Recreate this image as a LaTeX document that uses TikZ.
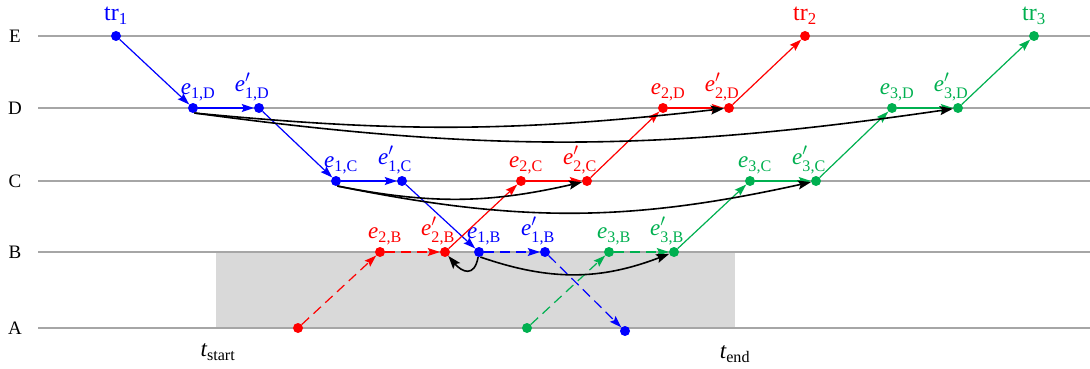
\documentclass[tikz,border=0pt]{standalone}
\usepackage{fontspec}
\setmainfont{Liberation Serif}
\usepackage{amsmath}
\usetikzlibrary{arrows.meta,positioning}
\definecolor{TrBlue}{HTML}{0000FF}
\definecolor{TrRed}{HTML}{FF0000}
\definecolor{TrGreen}{HTML}{00B050}
\definecolor{LaneGray}{HTML}{A6A6A6}
\definecolor{WinGray}{HTML}{D9D9D9}
\newcommand{\ev}[1]{$\text{\itshape e}_{\text{#1}}$}
\newcommand{\evp}[1]{$\text{\itshape e}'_{\text{#1}}$}
\newcommand{\trname}[1]{tr$_{\text{#1}}$}
\tikzset{
  dot/.style={circle,fill,inner sep=0pt,minimum size=10pt},
  lane/.style={LaneGray,line width=1.3pt},
  hop/.style={line width=1.2pt,-{Stealth[length=12pt,width=8pt,inset=2pt]}},
  hopdash/.style={hop,dash pattern=on 10pt off 6pt},
  link/.style={black,line width=1.6pt,-{Stealth[length=13pt,width=9pt,inset=2.5pt]}},
  evlab/.style={font=\fontsize{23}{25}\selectfont,inner sep=0pt},
  trlab/.style={font=\fontsize{24}{26}\selectfont,inner sep=0pt},
  lanelab/.style={font=\fontsize{19}{21}\selectfont,inner sep=0pt}
}
\begin{document}
\begin{tikzpicture}[x=1pt,y=1pt]
  \useasboundingbox (0,0) rectangle (1090,-369);
  % --- time window ---
  \fill[WinGray] (216,-252) rectangle (735,-328);
  \node[evlab] (tstart) at (218,-352) {$\text{\itshape t}_{\text{start}}$};
  \node[evlab] (tend) at (735,-354) {$\text{\itshape t}_{\text{end}}$};
  % --- lanes ---
  \foreach \y/\n in {36/E,108/D,181/C,252/B,328/A}{
    \node[lanelab] (lane\n) at (15,-\y) {\n};
    \draw[lane] (38,-\y) -- (1090,-\y);
  }

  % --- tr1 (blue) ---
  \begin{scope}[TrBlue]
    \node[dot,label={[trlab,label distance=6pt]above:\trname{1}}] (tr1) at (116,-36) {};
    \node[dot,label={[evlab,label distance=2pt,xshift=5pt]above:\ev{1,D}}]   (e1D)  at (193,-108) {};
    \node[dot,label={[evlab,label distance=2pt,xshift=-7pt]above:\evp{1,D}}] (e1Dp) at (259,-108) {};
    \node[dot,label={[evlab,label distance=2pt,xshift=5pt]above:\ev{1,C}}]   (e1C)  at (336,-181) {};
    \node[dot,label={[evlab,label distance=2pt,xshift=-7pt]above:\evp{1,C}}] (e1Cp) at (402,-181) {};
    \node[dot,label={[evlab,label distance=2pt,xshift=5pt]above:\ev{1,B}}]   (e1B)  at (479,-252) {};
    \node[dot,label={[evlab,label distance=2pt,xshift=-7pt]above:\evp{1,B}}] (e1Bp) at (545,-252) {};
    \node[dot] (e1A) at (625,-331) {};
    \foreach \a/\b in {tr1/e1D,e1D/e1Dp,e1Dp/e1C,e1C/e1Cp,e1Cp/e1B}
      \draw[hop] (\a) -- (\b);
    \foreach \a/\b in {e1B/e1Bp,e1Bp/e1A}
      \draw[hopdash] (\a) -- (\b);
  \end{scope}

  % --- tr2 (red) ---
  \begin{scope}[TrRed]
    \node[dot] (e2A) at (298,-328) {};
    \node[dot,label={[evlab,label distance=2pt,xshift=5pt]above:\ev{2,B}}]   (e2B)  at (380,-252) {};
    \node[dot,label={[evlab,label distance=2pt,xshift=-7pt]above:\evp{2,B}}] (e2Bp) at (445,-252) {};
    \node[dot,label={[evlab,label distance=2pt,xshift=5pt]above:\ev{2,C}}]   (e2C)  at (521,-181) {};
    \node[dot,label={[evlab,label distance=2pt,xshift=-7pt]above:\evp{2,C}}] (e2Cp) at (587,-181) {};
    \node[dot,label={[evlab,label distance=2pt,xshift=5pt]above:\ev{2,D}}]   (e2D)  at (663,-108) {};
    \node[dot,label={[evlab,label distance=2pt,xshift=-7pt]above:\evp{2,D}}] (e2Dp) at (729,-108) {};
    \node[dot,label={[trlab,label distance=6pt]above:\trname{2}}] (tr2) at (805,-36) {};
    \foreach \a/\b in {e2A/e2B,e2B/e2Bp}
      \draw[hopdash] (\a) -- (\b);
    \foreach \a/\b in {e2Bp/e2C,e2C/e2Cp,e2Cp/e2D,e2D/e2Dp,e2Dp/tr2}
      \draw[hop] (\a) -- (\b);
  \end{scope}

  % --- tr3 (green) ---
  \begin{scope}[TrGreen]
    \node[dot] (e3A) at (527,-328) {};
    \node[dot,label={[evlab,label distance=2pt,xshift=5pt]above:\ev{3,B}}]   (e3B)  at (609,-252) {};
    \node[dot,label={[evlab,label distance=2pt,xshift=-7pt]above:\evp{3,B}}] (e3Bp) at (674,-252) {};
    \node[dot,label={[evlab,label distance=2pt,xshift=5pt]above:\ev{3,C}}]   (e3C)  at (750,-181) {};
    \node[dot,label={[evlab,label distance=2pt,xshift=-7pt]above:\evp{3,C}}] (e3Cp) at (816,-181) {};
    \node[dot,label={[evlab,label distance=2pt,xshift=5pt]above:\ev{3,D}}]   (e3D)  at (892,-108) {};
    \node[dot,label={[evlab,label distance=2pt,xshift=-7pt]above:\evp{3,D}}] (e3Dp) at (958,-108) {};
    \node[dot,label={[trlab,label distance=6pt]above:\trname{3}}] (tr3) at (1034,-36) {};
    \foreach \a/\b in {e3A/e3B,e3B/e3Bp}
      \draw[hopdash] (\a) -- (\b);
    \foreach \a/\b in {e3Bp/e3C,e3C/e3Cp,e3Cp/e3D,e3D/e3Dp,e3Dp/tr3}
      \draw[hop] (\a) -- (\b);
  \end{scope}

  % --- dependencies ---
  \draw[link] (e1D.-75) to[bend right=6] (e2Dp);
  \draw[link] (e1D.-75) to[bend right=8] (e3Dp);
  \draw[link] (e1C.-75) to[bend right=12] (e2Cp);
  \draw[link] (e1C.-75) to[bend right=12] (e3Cp);
  \draw[link] (e1B.-75) to[bend right=20] (e3Bp);
  \draw[link] (e1B.-100) to[out=-100,in=-50,looseness=1.8] (e2Bp);
\end{tikzpicture}
\end{document}
